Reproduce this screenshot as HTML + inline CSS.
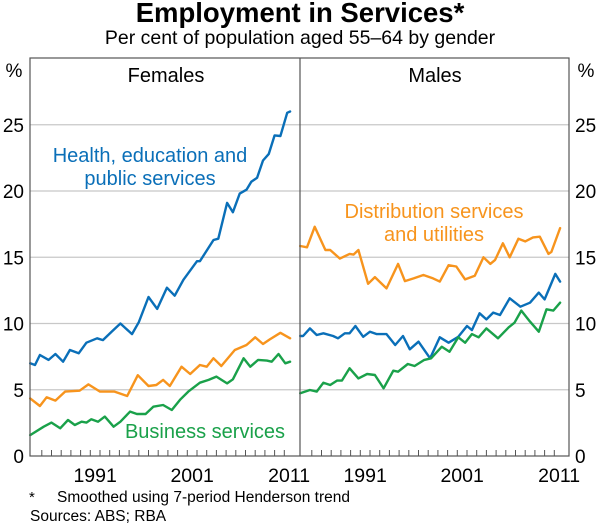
<!DOCTYPE html>
<html><head><meta charset="utf-8"><style>
body{margin:0;background:#fff;}
svg{display:block;font-family:"Liberation Sans",Arial,sans-serif;}
</style></head><body>
<svg id="chart" width="600" height="525" viewBox="0 0 600 525">
<text x="300" y="22" text-anchor="middle" font-size="27.5" font-weight="bold" fill="#000">Employment in Services*</text>
<text x="300" y="44" text-anchor="middle" font-size="19.5" fill="#000">Per cent of population aged 55–64 by gender</text>
<g id="grid"></g>
<g id="series"></g>
<rect x="30" y="58" width="539" height="398" fill="none" stroke="#555" stroke-width="1.2"/>
<line x1="300" y1="58" x2="300" y2="456" stroke="#555" stroke-width="1.2"/>
<g id="axes"></g>
<text x="166" y="82" text-anchor="middle" font-size="20" fill="#000">Females</text>
<text x="435" y="82" text-anchor="middle" font-size="20" fill="#000">Males</text>
<text x="14" y="77" text-anchor="middle" font-size="19">%</text>
<text x="586" y="77" text-anchor="middle" font-size="19">%</text>
<text x="150" y="162" text-anchor="middle" font-size="20" fill="#0a6fb8"><tspan x="150">Health, education and</tspan><tspan x="150" dy="23">public services</tspan></text>
<text x="434" y="218" text-anchor="middle" font-size="20" fill="#f7941d"><tspan x="434">Distribution services</tspan><tspan x="434" dy="23">and utilities</tspan></text>
<text x="205" y="438" text-anchor="middle" font-size="20" fill="#1aa14a">Business services</text>
<text x="29" y="502" font-size="15">*</text>
<text x="57" y="502" font-size="15.5">Smoothed using 7-period Henderson trend</text>
<text x="30" y="521" font-size="15.5">Sources: ABS; RBA</text>
</svg>
<script>
const yTicks=[0,5,10,15,20,25];
const xLabels=[1991,2001,2011];
const femHealthYears=[1984.8,1985.3,1985.8,1986.7,1987.4,1988.2,1988.9,1989.8,1990.6,1991.7,1992.3,1993.2,1994.1,1995.3,1996.0,1997.0,1997.9,1998.9,1999.7,2000.6,2002.0,2002.3,2003.7,2004.2,2005.1,2005.7,2006.4,2007.1,2007.6,2008.2,2008.8,2009.4,2010.0,2010.6,2011.3,2011.6];
const femHealthVals=[7.0,6.87,7.62,7.25,7.7,7.12,8.0,7.75,8.55,8.88,8.75,9.38,10.0,9.2,10.1,12.0,11.1,12.7,12.1,13.3,14.7,14.7,16.3,16.4,19.1,18.4,19.8,20.1,20.7,21.0,22.3,22.8,24.2,24.15,25.9,26.0];
const femDistYears=[1984.8,1985.8,1986.5,1987.4,1988.4,1989.9,1990.8,1992.0,1993.5,1994.8,1995.9,1997.0,1997.8,1998.5,1999.2,2000.4,2001.3,2002.3,2003.0,2003.7,2004.5,2005.9,2007.1,2008.0,2008.8,2009.5,2010.6,2011.6];
const femDistVals=[4.35,3.77,4.43,4.18,4.86,4.93,5.4,4.86,4.86,4.53,6.1,5.28,5.36,5.74,5.28,6.74,6.19,6.87,6.74,7.37,6.79,8.0,8.38,8.96,8.45,8.8,9.3,8.88];
const femBusYears=[1984.8,1986.2,1987.0,1987.9,1988.7,1989.4,1990.1,1990.6,1991.1,1991.8,1992.5,1993.4,1994.1,1995.1,1995.8,1996.7,1997.5,1998.5,1999.4,2000.3,2001.1,2002.3,2003.2,2004.0,2005.1,2005.7,2006.8,2007.5,2008.3,2009.2,2009.7,2010.4,2011.1,2011.6];
const femBusVals=[1.58,2.21,2.52,2.09,2.72,2.34,2.59,2.52,2.77,2.59,2.97,2.21,2.59,3.35,3.17,3.17,3.72,3.85,3.47,4.28,4.86,5.53,5.74,5.99,5.48,5.79,7.37,6.74,7.25,7.2,7.12,7.7,7.0,7.12];
const maleDistYears=[1984.8,1985.5,1986.3,1987.4,1987.9,1988.9,1989.9,1990.3,1990.8,1991.8,1992.5,1993.7,1994.9,1995.6,1996.5,1997.5,1998.5,1999.2,2000.1,2000.9,2001.8,2002.8,2003.7,2004.4,2004.9,2005.7,2006.4,2007.3,2008.0,2008.8,2009.5,2010.4,2010.7,2011.6];
const maleDistVals=[15.85,15.75,17.3,15.55,15.55,14.9,15.25,15.2,15.55,13.0,13.5,12.65,14.5,13.2,13.4,13.66,13.4,13.16,14.4,14.3,13.33,13.6,15.0,14.5,14.8,16.05,15.0,16.4,16.2,16.5,16.55,15.25,15.4,17.2];
const maleHealthYears=[1984.8,1985.1,1985.8,1986.5,1987.2,1988.2,1988.7,1989.4,1989.9,1990.5,1991.3,1992.0,1992.7,1993.7,1994.6,1995.4,1996.1,1997.0,1998.2,1999.2,2000.1,2001.1,2002.0,2002.5,2003.3,2004.0,2004.7,2005.4,2006.4,2007.5,2008.5,2009.4,2010.0,2011.1,2011.6];
const maleHealthVals=[9.06,9.06,9.63,9.13,9.26,9.06,8.88,9.26,9.26,9.81,9.0,9.38,9.2,9.2,8.38,9.06,8.05,8.63,7.37,8.96,8.55,9.0,9.81,9.5,10.77,10.31,10.82,10.64,11.9,11.27,11.57,12.33,11.82,13.74,13.16];
const maleBusYears=[1984.8,1985.8,1986.5,1987.2,1987.9,1988.6,1989.1,1989.9,1990.8,1991.7,1992.5,1993.4,1994.4,1994.9,1995.9,1996.6,1997.6,1998.3,1999.4,2000.2,2001.1,2001.8,2002.5,2003.2,2004.0,2005.2,2006.3,2006.9,2007.6,2008.5,2009.4,2010.2,2010.9,2011.6];
const maleBusVals=[4.73,4.98,4.86,5.53,5.36,5.69,5.69,6.62,5.86,6.19,6.11,5.11,6.44,6.36,6.94,6.79,7.25,7.37,8.25,7.87,8.96,8.55,9.2,8.96,9.63,8.88,9.71,10.06,10.97,10.14,9.38,11.07,10.97,11.57];

const NS='http://www.w3.org/2000/svg';
const Y0=456, YS=13.25;
function yScale(v){return Y0-v*YS;}
function xScale(yr,panel){return 90.3+(panel?270:0)+(yr-1991)*9.7;}
function mk(tag,attrs,parent){const e=document.createElementNS(NS,tag);for(const k in attrs)e.setAttribute(k,attrs[k]);parent.appendChild(e);return e;}
const grid=document.getElementById('grid'),axes=document.getElementById('axes'),ser=document.getElementById('series');
yTicks.forEach(t=>{
  if(t>0){const g=mk('line',{x1:30,x2:569,y1:yScale(t),y2:yScale(t),stroke:'#c8c8c8','stroke-width':1.2},grid);
  
  }
  const l=mk('text',{x:24,y:yScale(t)+7,'text-anchor':'end','font-size':19},axes);l.textContent=t;
  
  
  const r=mk('text',{x:575,y:yScale(t)+7,'text-anchor':'start','font-size':19},axes);r.textContent=t;
  
  
});
[0,1].forEach(p=>{
  for(let yr=1986;yr<=2011;yr++){
    const x=xScale(yr,p);
    const tk=mk('line',{x1:x,x2:x,y1:456,y2:450,stroke:'#555','stroke-width':1},axes);
    
    
  }
  xLabels.forEach(yr=>{
    const t=mk('text',{x:xScale(yr+0.5,p),y:482,'text-anchor':'middle','font-size':19.5},axes);t.textContent=yr;
    
    
  });
});
function line(years,vals,panel,color,name){
  const pts=years.map((y,i)=>xScale(y,panel).toFixed(1)+','+yScale(vals[i]).toFixed(1)).join(' ');
  const pl=mk('polyline',{points:pts,fill:'none',stroke:color,'stroke-width':2.4,'stroke-linejoin':'round','stroke-linecap':'round'},ser);
  
  
}
line(femHealthYears,femHealthVals,0,'#0a6fb8','female-health-line');
line(femDistYears,femDistVals,0,'#f7941d','female-distribution-line');
line(femBusYears,femBusVals,0,'#1aa14a','female-business-line');
line(maleDistYears,maleDistVals,1,'#f7941d','male-distribution-line');
line(maleHealthYears,maleHealthVals,1,'#0a6fb8','male-health-line');
line(maleBusYears,maleBusVals,1,'#1aa14a','male-business-line');
</script>
</body></html>
